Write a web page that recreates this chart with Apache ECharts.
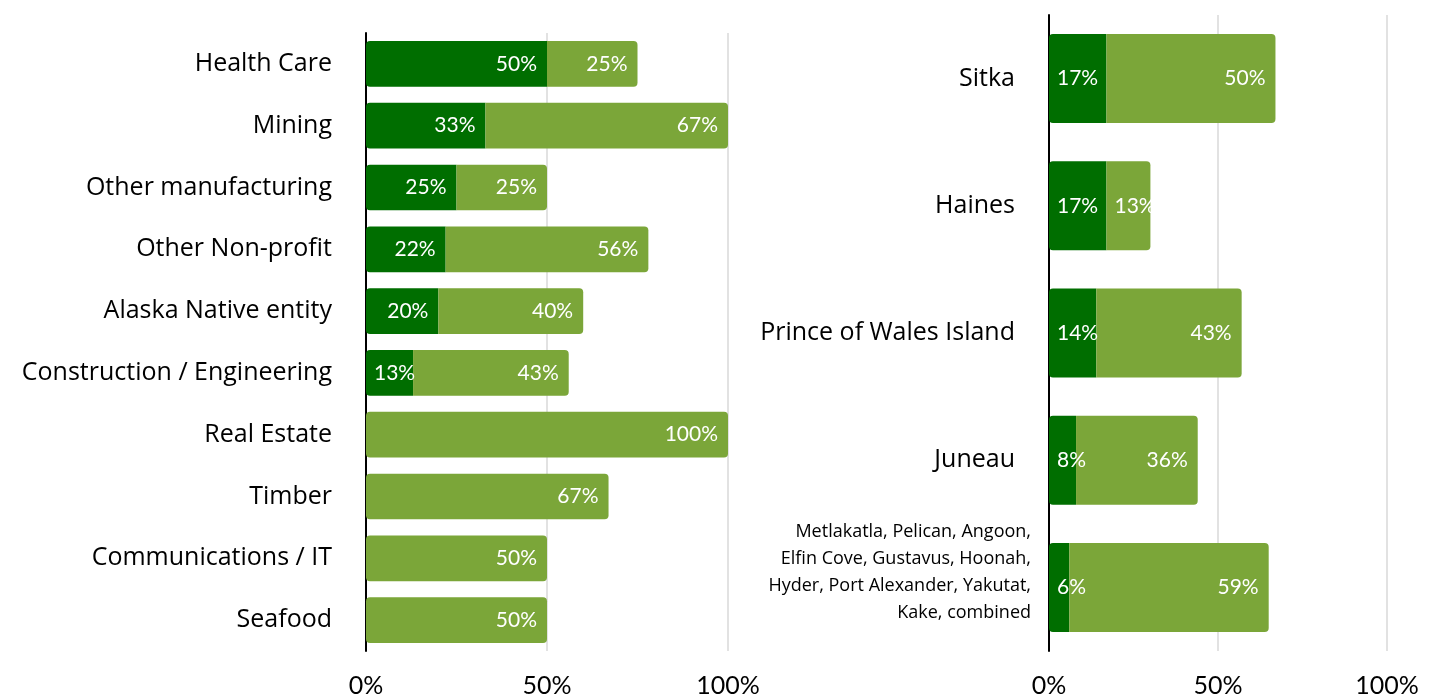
<!DOCTYPE html>
<html>
<head>
<meta charset="utf-8">
<script src="https://cdn.jsdelivr.net/npm/echarts@6/dist/echarts.min.js"></script>
<style>html,body{margin:0;padding:0;background:#fff}#c{width:1433px;height:698px}</style>
</head>
<body>
<div id="c"></div>
<script>
// Left chart: industries
var industries = ['Health Care','Mining','Other manufacturing','Other Non-profit','Alaska Native entity','Construction / Engineering','Real Estate','Timber','Communications / IT','Seafood'];
var industryDark = [50, 33, 25, 22, 20, 13, null, null, null, null];
var industryLight = [25, 67, 25, 56, 40, 43, 100, 67, 50, 50];

// Right chart: communities
var communities = ['Sitka','Haines','Prince of Wales Island','Juneau','Metlakatla, Pelican, Angoon,\nElfin Cove, Gustavus, Hoonah,\nHyder, Port Alexander, Yakutat,\nKake, combined'];
var communityDark = [17, 17, 14, 8, 6];
var communityLight = [50, 13, 43, 36, 59];

var xTicks = ['0%','50%','100%'];

var DARK = '#006e00', LIGHT = '#7ba639';
var FONT = '"Open Sans", "Noto Sans", sans-serif';
var LFONT = 'Lato, "Noto Sans", sans-serif';
var R = 4;

function items(vals, other, isDark, pxPerPct) {
  return vals.map(function (v, i) {
    if (v == null) return '-';
    var hasOther = other[i] != null;
    var radius;
    if (isDark) radius = hasOther ? [R, 0, 0, R] : [R, R, R, R];
    else radius = hasOther ? [0, R, R, 0] : [R, R, R, R];
    var fits = v * pxPerPct >= 60;
    return {
      value: v,
      itemStyle: { borderRadius: radius },
      label: { position: fits ? 'insideRight' : 'insideLeft', distance: fits ? 10 : 8 }
    };
  });
}

function seriesFor(idx, vals, other, isDark, px) {
  return {
    type: 'bar', xAxisIndex: idx, yAxisIndex: idx, stack: 's' + idx,
    barWidth: idx === 0 ? '74%' : '70%',
    itemStyle: { color: isDark ? DARK : LIGHT },
    label: {
      show: true, color: '#fff', fontFamily: LFONT, fontSize: 21,
      formatter: function (p) { return p.value + '%'; }
    },
    data: items(vals, other, isDark, px)
  };
}

function xAxis(gi) {
  return {
    type: 'value', gridIndex: gi, min: 0, max: 100, interval: 50,
    axisLine: { show: false }, axisTick: { show: false },
    splitLine: { lineStyle: { color: '#d9d9d9', width: 1.5 } },
    axisLabel: {
      fontFamily: LFONT, fontSize: 25, color: '#000', margin: 22,
      formatter: function (v) { return xTicks[v / 50]; }
    }
  };
}

function yAxis(gi, cats) {
  return {
    type: 'category', gridIndex: gi, data: cats, inverse: true,
    axisLine: { show: true, lineStyle: { color: '#000', width: 2 } },
    axisTick: { show: false },
    axisLabel: {
      color: '#000', margin: 18,
      formatter: function (v) {
        if (v.indexOf('\n') >= 0) {
          return v.split('\n').map(function (l) { return '{s|' + l + '}'; }).join('\n') + '\n{e| }';
        }
        return '{n|' + v + '}';
      },
      rich: {
        n: { fontFamily: FONT, fontSize: 25, color: '#000', padding: [0, 16, 0, 0] },
        s: { fontFamily: FONT, fontSize: 18, lineHeight: 26.7, color: '#000', align: 'right' },
        e: { fontSize: 10, lineHeight: 30, align: 'right' }
      }
    }
  };
}

var chart = echarts.init(document.getElementById('c'), null, { renderer: 'canvas' });
chart.setOption({
  animation: false,
  backgroundColor: '#fff',
  grid: [
    { left: 366, right: 705, top: 33, bottom: 47 },
    { left: 1049, right: 46, top: 15, bottom: 47 }
  ],
  xAxis: [xAxis(0), xAxis(1)],
  yAxis: [yAxis(0, industries), yAxis(1, communities)],
  series: [
    seriesFor(0, industryDark, industryLight, true, 3.62),
    seriesFor(0, industryLight, industryDark, false, 3.62),
    seriesFor(1, communityDark, communityLight, true, 3.38),
    seriesFor(1, communityLight, communityDark, false, 3.38)
  ]
});
</script>
</body>
</html>
